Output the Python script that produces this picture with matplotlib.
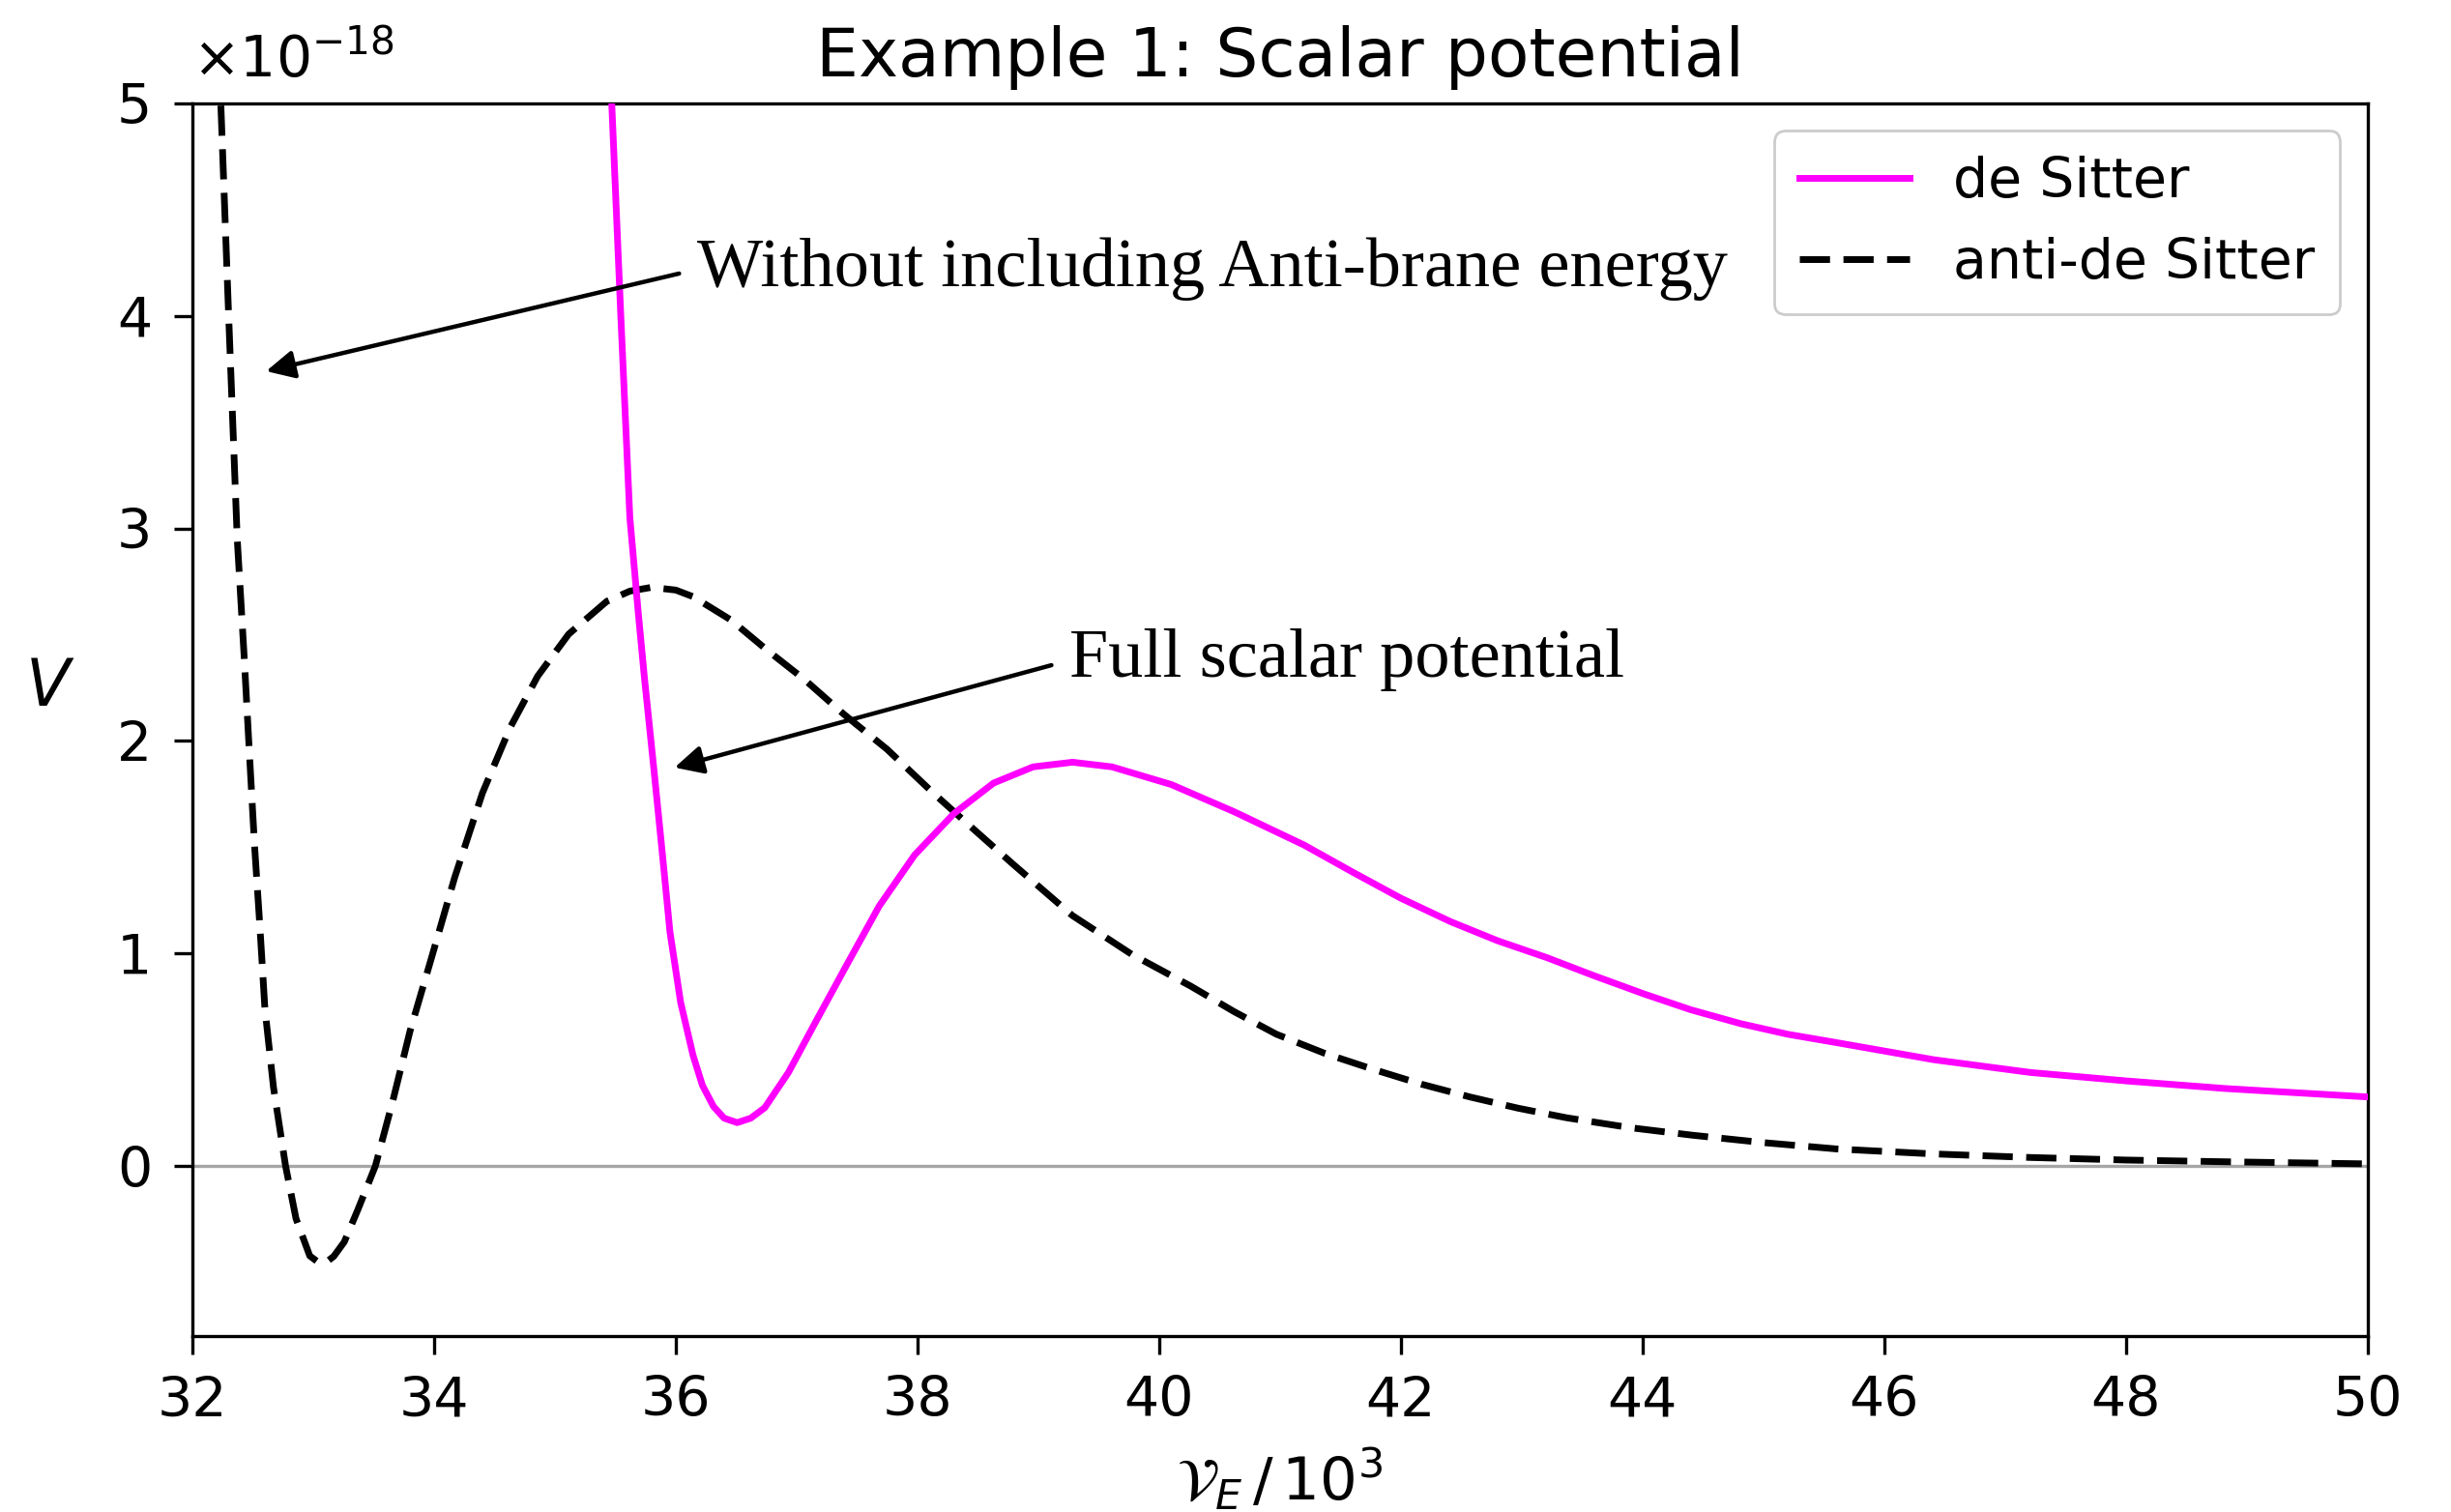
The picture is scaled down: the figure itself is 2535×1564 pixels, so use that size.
import matplotlib
matplotlib.use("Agg")
import matplotlib.pyplot as plt

ads_x = [32.20, 32.235, 32.30, 32.371, 32.429, 32.471, 32.514, 32.557, 32.600, 32.671,
         32.771, 32.857, 32.971, 33.03, 33.10, 33.17, 33.257, 33.371, 33.514, 33.657,
         33.80, 33.97, 34.171, 34.40, 34.629, 34.857, 35.114, 35.429, 35.62, 35.80,
         36.0, 36.143, 36.457, 36.75, 37.063, 37.39, 37.748, 38.14, 38.466, 38.793,
         39.283, 39.77, 40.262, 40.621, 40.97, 41.37, 41.77, 42.17, 42.57, 42.97,
         43.37, 43.9, 44.41, 45.0, 45.61, 46.4, 47.21, 48.0, 48.81, 49.4, 50.0]
ads_v = [5.4, 5.0, 4.0, 2.95, 2.39, 1.95, 1.51, 1.14, 0.74, 0.37,
         0.0, -0.247, -0.423, -0.448, -0.456, -0.425, -0.357, -0.203, 0.0, 0.303,
         0.633, 0.963, 1.359, 1.755, 2.063, 2.305, 2.503, 2.657, 2.705, 2.723,
         2.71, 2.679, 2.569, 2.43, 2.29, 2.126, 1.961, 1.75, 1.584, 1.419,
         1.178, 0.997, 0.846, 0.726, 0.62, 0.53, 0.455, 0.385, 0.325, 0.272,
         0.227, 0.18, 0.145, 0.11, 0.08, 0.057, 0.04, 0.028, 0.02, 0.015, 0.01]

ds_x = [35.44, 35.47, 35.545, 35.62, 35.69, 35.74, 35.82, 35.887, 35.952, 36.04,
        36.143, 36.22, 36.312, 36.40, 36.508, 36.62, 36.736, 36.932, 37.16, 37.42,
        37.683, 37.977, 38.303, 38.63, 38.956, 39.283, 39.61, 40.10, 40.62,
        41.2, 41.61, 42.0, 42.41, 42.8, 43.21, 43.6, 44.01, 44.4, 44.81, 45.2,
        45.61, 46.41, 47.21, 48.01, 48.81, 49.4, 50.0]
ds_v = [5.4, 5.0, 4.0, 3.05, 2.6, 2.30, 1.86, 1.48, 1.10, 0.77,
        0.52, 0.38, 0.28, 0.225, 0.204, 0.225, 0.274, 0.44, 0.681, 0.952,
        1.223, 1.464, 1.659, 1.802, 1.878, 1.90, 1.878, 1.795, 1.667,
        1.51, 1.38, 1.26, 1.15, 1.06, 0.98, 0.895, 0.81, 0.735, 0.67, 0.62,
        0.58, 0.50, 0.44, 0.40, 0.365, 0.345, 0.325]

xticks = [32, 34, 36, 38, 40, 42, 44, 46, 48, 50]
yticks = [0, 1, 2, 3, 4, 5]

fig = plt.figure(figsize=(12.675, 7.82), dpi=200)
ax = fig.add_axes([0.0785, 0.1164, 0.8875, 0.8152])

ax.axhline(0, color="0.65", lw=1.2, zorder=1)
ax.plot(ds_x, ds_v, color="magenta", lw=2.5, label="de Sitter", zorder=3)
ax.plot(ads_x, ads_v, color="black", lw=2.5, ls="--", dashes=(4.5, 2.0),
        label="anti-de Sitter", zorder=2)

ax.set_xlim(32, 50)
ax.set_ylim(-0.8, 5)
ax.set_xticks(xticks)
ax.set_yticks(yticks)
ax.tick_params(labelsize=20.5, length=7, width=1.2)
ax.tick_params(axis="y", pad=8)
ax.tick_params(axis="x", pad=7.5)
for s in ax.spines.values():
    s.set_linewidth(1.2)

# scale factor of the y axis
ax.text(0.0, 1.012, r"$\times10^{-18}$", transform=ax.transAxes, fontsize=21,
        ha="left", va="bottom")

ax.set_title("Example 1: Scalar potential", fontsize=25, pad=10)
ax.set_xlabel(r"$\mathcal{V}_E\,/\,10^3$", fontsize=22, labelpad=7)
ax.set_ylabel(r"$V$", fontsize=24, rotation=0, labelpad=25)

arrow = dict(arrowstyle="-|>", color="black", lw=1.6, mutation_scale=22,
             shrinkA=5, shrinkB=0, relpos=(0, 0.5))
ax.annotate("Without including Anti-brane energy", xy=(32.61, 3.74),
            xytext=(36.18, 4.22), ha="left", va="center",
            family="Liberation Serif", fontsize=26, arrowprops=arrow)
ax.annotate("Full scalar potential", xy=(35.99, 1.875),
            xytext=(39.26, 2.38), ha="left", va="center",
            family="Liberation Serif", fontsize=26, arrowprops=arrow)

ax.legend(loc="upper right", fontsize=20.5, handlelength=2.0, borderpad=0.45,
          framealpha=1, edgecolor="0.8")

fig.savefig("out.png", dpi=200)
